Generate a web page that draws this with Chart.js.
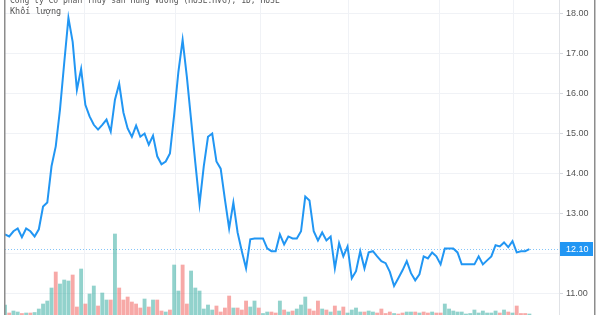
<!DOCTYPE html>
<html>
<head>
<meta charset="utf-8">
<script src="https://cdn.jsdelivr.net/npm/chart.js@4/dist/chart.umd.min.js"></script>
<style>
  html, body { margin: 0; padding: 0; background: #ffffff; }
  #wrap { position: relative; width: 600px; height: 315px; }
</style>
</head>
<body>
<div id="wrap"><canvas id="c" width="600" height="315"></canvas></div>
<script>
const titleText = "Công ty Cổ phần Thủy sản Hùng Vương (HOSE:HVG), 1D, HOSE";
const volumeLabel = "Khối lượng";
const lastPrice = 12.10;

const price = [
  12.47, 12.42, 12.55, 12.62, 12.40, 12.62, 12.55, 12.42, 12.60, 13.17,
  13.27, 14.18, 14.68, 15.60, 16.77, 17.90, 17.30, 16.10, 16.62, 15.72,
  15.43, 15.22, 15.10, 15.22, 15.35, 15.05, 15.85, 16.25, 15.53, 15.13,
  14.92, 15.20, 14.92, 15.00, 14.72, 14.95, 14.43, 14.23, 14.30, 14.50,
  15.47, 16.55, 17.35, 16.43, 15.35, 14.27, 13.23, 14.18, 14.92, 15.00,
  14.30, 14.12, 13.35, 12.62, 13.27, 12.52, 12.05, 11.62, 12.35, 12.37,
  12.37, 12.37, 12.12, 12.05, 12.05, 12.47, 12.22, 12.42, 12.37, 12.37,
  12.55, 13.42, 13.32, 12.55, 12.32, 12.52, 12.32, 12.42, 11.62, 12.25,
  11.92, 12.17, 11.37, 11.55, 12.05, 11.62, 12.02, 12.05, 11.92, 11.80,
  11.75, 11.53, 11.18, 11.37, 11.57, 11.80, 11.50, 11.32, 11.47, 11.92,
  11.87, 12.02, 11.92, 11.72, 12.12, 12.12, 12.12, 12.02, 11.72, 11.72,
  11.72, 11.72, 11.92, 11.72, 11.82, 11.92, 12.20, 12.17, 12.27, 12.15,
  12.30, 12.02, 12.05, 12.05, 12.10
];

// volume, thousand shares
const volume = [
  200, 40, 80, 60, 30, 40, 40, 50, 120, 220,
  280, 540, 860, 620, 700, 680, 800, 160, 920, 220,
  420, 580, 180, 440, 300, 300, 1620, 540, 300, 360,
  260, 220, 140, 320, 160, 300, 300, 80, 60, 100,
  1000, 480, 1000, 220, 880, 540, 480, 120, 200, 100,
  180, 60, 140, 380, 140, 140, 100, 280, 160, 280,
  140, 30, 60, 60, 40, 280, 100, 60, 80, 120,
  200, 360, 120, 80, 280, 120, 100, 60, 180, 80,
  160, 40, 100, 140, 60, 60, 80, 60, 40, 120,
  30, 60, 30, 20, 40, 60, 60, 60, 40, 60,
  40, 60, 40, 40, 220, 120, 80, 60, 60, 20,
  30, 100, 40, 80, 40, 40, 80, 40, 100, 60,
  40, 180, 30, 30, 20
];

// 1 = up day (green), 0 = down day (red)
const upDay = [
  1,0,1,1,0,1,0,1,1,1,
  1,1,0,1,1,1,0,0,1,0,
  1,1,0,1,1,0,1,0,0,0,
  0,0,0,1,0,1,0,0,1,0,
  1,1,0,0,1,1,1,1,1,1,
  0,0,0,0,1,0,0,0,1,1,
  0,1,1,0,0,1,0,1,0,1,
  1,1,0,0,0,1,0,1,0,1,
  0,1,1,1,1,0,1,1,0,0,
  0,0,1,0,0,1,1,0,1,0,
  0,1,0,0,1,1,1,1,1,1,
  1,1,1,1,1,1,1,0,1,0,
  1,0,0,0,1
];

const priceTicks = [11, 12, 13, 14, 15, 16, 17, 18];
const monthLines = [7.1, 30.3, 50.4, 70.4, 92.2, 113.2, 127.2];

const priceMin = 10.45, priceMax = 18.35;
const xMin = 0, xMax = 131;
const volMax = 6300;

const linePts = price.map((v, i) => ({ x: i, y: v }));
const volPts = volume.map((v, i) => ({ x: i, y: v }));
const volColors = upDay.map(u => u ? 'rgba(38,166,154,0.5)' : 'rgba(239,83,80,0.5)');

const overlay = {
  id: 'overlay',
  beforeDatasetsDraw(chart) {
    const ctx = chart.ctx, a = chart.chartArea;
    const y = Math.round(chart.scales.y.getPixelForValue(lastPrice)) + 0.5;
    ctx.save();
    ctx.strokeStyle = 'rgba(33,150,243,0.55)';
    ctx.lineWidth = 1;
    ctx.setLineDash([1, 2]);
    ctx.beginPath();
    ctx.moveTo(a.left, y);
    ctx.lineTo(a.right, y);
    ctx.stroke();
    ctx.restore();
  },
  afterDraw(chart) {
    const ctx = chart.ctx, a = chart.chartArea;
    const y = chart.scales.y.getPixelForValue(lastPrice);
    ctx.save();
    // price label
    ctx.fillStyle = '#2196f3';
    ctx.fillRect(a.right + 1, Math.round(y) - 7, 33, 14);
    ctx.fillStyle = '#ffffff';
    ctx.font = '9px "Liberation Sans", Arial, sans-serif';
    ctx.textBaseline = 'middle';
    ctx.textAlign = 'left';
    ctx.fillText(lastPrice.toFixed(2), a.right + 7, Math.round(y) + 0.5);
    // frame lines
    ctx.fillStyle = '#8c8c8c';
    ctx.fillRect(4, 0, 1.5, 315);
    ctx.fillRect(594, 0, 1.5, 315);
    // texts
    ctx.fillStyle = '#555555';
    ctx.font = '8px "DejaVu Sans Mono", monospace';
    ctx.textBaseline = 'alphabetic';
    ctx.fillText(titleText, 10, 3);
    ctx.font = '8.5px "DejaVu Sans Mono", monospace';
    ctx.fillText(volumeLabel, 10, 13.5);
    ctx.restore();
  }
};

new Chart(document.getElementById('c'), {
  type: 'bar',
  data: {
    datasets: [
      {
        type: 'line',
        data: linePts,
        yAxisID: 'y',
        borderColor: '#2196f3',
        borderWidth: 2,
        pointRadius: 0,
        tension: 0,
        order: 0
      },
      {
        type: 'bar',
        data: volPts,
        yAxisID: 'v',
        backgroundColor: volColors,
        barThickness: 3.2,
        order: 1
      }
    ]
  },
  options: {
    responsive: false,
    animation: false,
    events: [],
    layout: { padding: { left: 5, right: 0, top: 0, bottom: 0 } },
    plugins: { legend: { display: false }, tooltip: { enabled: false } },
    scales: {
      x: {
        type: 'linear',
        min: xMin,
        max: xMax,
        offset: false,
        afterBuildTicks(s) { s.ticks = monthLines.map(v => ({ value: v })); },
        ticks: { display: false },
        grid: { color: '#f0f2f6', drawTicks: false },
        border: { display: false }
      },
      y: {
        position: 'right',
        min: priceMin,
        max: priceMax,
        afterBuildTicks(s) { s.ticks = priceTicks.map(v => ({ value: v })); },
        afterFit(s) { s.width = 41; s.paddingTop = 0; s.paddingBottom = 0; },
        ticks: {
          callback: v => Number(v).toFixed(2),
          color: '#555555',
          font: { family: '"Liberation Sans", Arial, sans-serif', size: 9 },
          padding: 3
        },
        grid: { color: '#f0f2f6', tickLength: 4, tickColor: '#d6d8dd' },
        border: { display: true, color: '#e0e2e6' }
      },
      v: {
        display: false,
        min: 0,
        max: volMax
      }
    }
  },
  plugins: [overlay]
});
</script>
</body>
</html>
